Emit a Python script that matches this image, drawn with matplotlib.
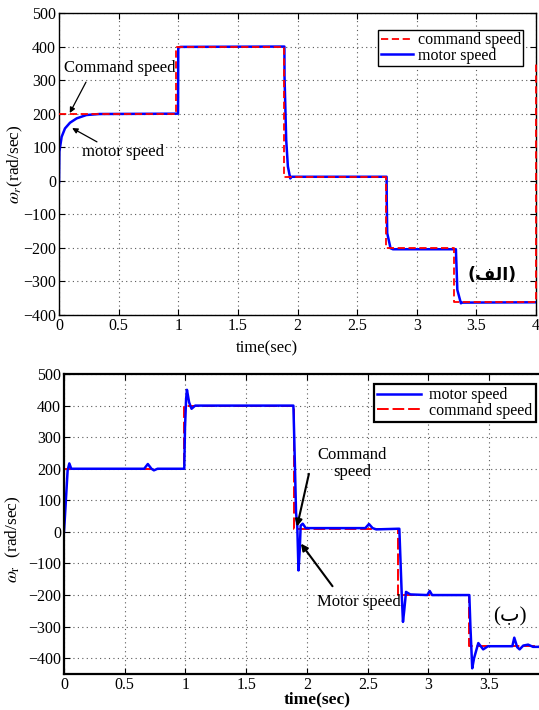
import matplotlib
matplotlib.use("Agg")
from matplotlib import pyplot as plt

plt.rcParams["font.family"] = ["Liberation Serif", "DejaVu Serif"]
plt.rcParams["mathtext.fontset"] = "stix"
plt.rcParams["font.size"] = 11

# --- upper panel (الف) ---
cmd_a_t = [0, 0.985, 0.985, 1.883, 1.883, 2.745, 2.745, 3.315, 3.315, 4.0, 4.0]
cmd_a_v = [200, 200, 400, 400, 12, 12, -200, -200, -362, -362, 350]

motor_a_t = [0, 0.003, 0.022, 0.05, 0.092, 0.148, 0.23, 0.34, 0.998, 1.0, 1.02,
             1.89, 1.891, 1.905, 1.919, 1.939, 1.95, 2.747, 2.748, 2.752, 2.78,
             2.8, 3.328, 3.34, 3.37, 3.38, 4.0]
motor_a_v = [-5, 87, 131, 156, 173, 186, 196, 199, 200, 397, 399,
             400, 310, 122, 43, 7, 12, 12, -57, -156, -201,
             -204, -204, -325, -365, -363, -362]

# --- lower panel (ب) ---
cmd_b_t = [0, 0.99, 0.99, 1.89, 1.89, 2.746, 2.746, 3.336, 3.336, 4.0]
cmd_b_v = [200, 200, 400, 400, 10, 10, -200, -200, -362, -362]

motor_b_t = [0, 0.005, 0.03, 0.044, 0.06, 0.08, 0.66, 0.69, 0.72, 0.74, 0.77,
             0.99, 0.996, 1.005, 1.012, 1.03, 1.05, 1.08, 1.888, 1.895, 1.91,
             1.92, 1.93, 1.94, 1.948, 1.965, 1.99, 2.48, 2.51, 2.54, 2.57,
             2.75, 2.76, 2.78, 2.79, 2.80, 2.815, 2.85, 2.99, 3.01, 3.03,
             3.336, 3.345, 3.36, 3.375, 3.41, 3.45, 3.49, 3.69, 3.706, 3.73,
             3.75, 3.78, 3.82, 3.86, 3.95]
motor_b_v = [0, 30, 195, 217, 200, 200, 200, 215, 200, 195, 200,
             200, 330, 420, 450, 410, 390, 400, 400, 300, 60,
             20, -122, -60, 20, 26, 12, 12, 25, 12, 8,
             10, 10, -200, -285, -250, -190, -198, -200, -187, -200,
             -200, -300, -432, -400, -352, -372, -362, -362, -335, -365,
             -372, -360, -357, -364, -364]

xticks = [0, 0.5, 1, 1.5, 2, 2.5, 3, 3.5, 4]
xtick_labels = ["0", "0.5", "1", "1.5", "2", "2.5", "3", "3.5", "4"]
yticks = [-400, -300, -200, -100, 0, 100, 200, 300, 400, 500]

fig = plt.figure(figsize=(5.39, 7.10), dpi=100)
ax1 = fig.add_axes([0.1095, 0.5563, 0.885, 0.4254])
ax2 = fig.add_axes([0.1187, 0.0507, 0.9017, 0.4225])


def style_axes(ax, spine_lw, n_labels):
    ax.set_xticks(xticks)
    ax.set_xticklabels(xtick_labels[:n_labels] + [""] * (len(xticks) - n_labels))
    ax.set_yticks(yticks)
    ax.grid(True, linestyle=(0, (1, 3)), color="0.35", linewidth=0.8)
    ax.tick_params(direction="in", length=4, top=True, right=True, labelsize=11.5, pad=2)
    for s in ax.spines.values():
        s.set_linewidth(spine_lw)


def arrow(ax, tail, head, lw, size):
    ax.annotate("", xy=head, xytext=tail,
                arrowprops=dict(arrowstyle="-|>", color="black", lw=lw,
                                mutation_scale=size, shrinkA=0, shrinkB=0))


# upper panel
ax1.plot(cmd_a_t, cmd_a_v, color="red", linestyle=(0, (4, 2)), linewidth=1.3,
         label="command speed", zorder=3, clip_on=False)
ax1.plot(motor_a_t, motor_a_v, color="blue", linewidth=1.8, label="motor speed", zorder=2)
ax1.set_xlim(0, 4)
ax1.set_ylim(-400, 500)
style_axes(ax1, 1.0, 9)
ax1.set_ylabel(r"$\omega_r$(rad/sec)", fontsize=12.5, labelpad=-1)
ax1.set_xlabel("time(sec)", fontsize=12)
ax1.xaxis.set_label_coords(0.436, -0.085)
ax1.legend(loc="upper right", bbox_to_anchor=(0.973, 0.944), borderaxespad=0,
           fancybox=False, edgecolor="black", framealpha=1, fontsize=11.5,
           handlelength=2.0, handletextpad=0.3, labelspacing=-0.05, borderpad=0.15)
ax1.get_legend().get_frame().set_linewidth(1.0)

ax1.text(0.51, 336, "Command speed", ha="center", va="center", fontsize=12)
arrow(ax1, (0.226, 294), (0.09, 202), 0.9, 8)
ax1.text(0.535, 86, "motor speed", ha="center", va="center", fontsize=12)
arrow(ax1, (0.318, 116), (0.11, 157), 0.9, 8)
ax1.text(3.63, -281, "(\uFED2\uFEDF\uFE8D)", ha="center", va="center", fontsize=12.5,
         family="DejaVu Sans", fontweight="bold")

# lower panel
ax2.plot(cmd_b_t, cmd_b_v, color="red", linestyle=(0, (6, 2)), linewidth=1.4,
         label="command speed", zorder=2)
ax2.plot(motor_b_t, motor_b_v, color="blue", linewidth=1.8, label="motor speed", zorder=2.1)
ax2.set_xlim(0, 4)
ax2.set_ylim(-450, 500)
style_axes(ax2, 1.6, 8)
ax2.set_ylabel(r"$\omega_{\mathrm{r}}$  (rad/sec)", fontsize=12.5, labelpad=4)
ax2.yaxis.set_label_coords(-0.085, 0.45)
ax2.set_xlabel("time(sec)", fontsize=12.5, fontweight="bold")
ax2.xaxis.set_label_coords(0.52, -0.058)
handles, labels = ax2.get_legend_handles_labels()
ax2.legend(handles[::-1], labels[::-1], loc="upper right", bbox_to_anchor=(0.971, 0.967),
           borderaxespad=0, fancybox=False, edgecolor="black", framealpha=1, fontsize=11.5,
           handlelength=2.8, handletextpad=0.5, labelspacing=-0.02, borderpad=0.2)
ax2.get_legend().get_frame().set_linewidth(1.6)

ax2.text(2.37, 216, "Command\nspeed", ha="center", va="center", fontsize=12, linespacing=1.1)
arrow(ax2, (2.016, 184), (1.918, 17), 1.5, 10)
ax2.text(2.43, -223, "Motor speed", ha="center", va="center", fontsize=12)
arrow(ax2, (2.21, -172), (1.95, -37), 1.5, 10)
ax2.text(3.67, -270, "(\u0628)", ha="center", va="center", fontsize=15,
         family=["Liberation Serif", "DejaVu Sans"])

fig.savefig("out.png", dpi=100)
